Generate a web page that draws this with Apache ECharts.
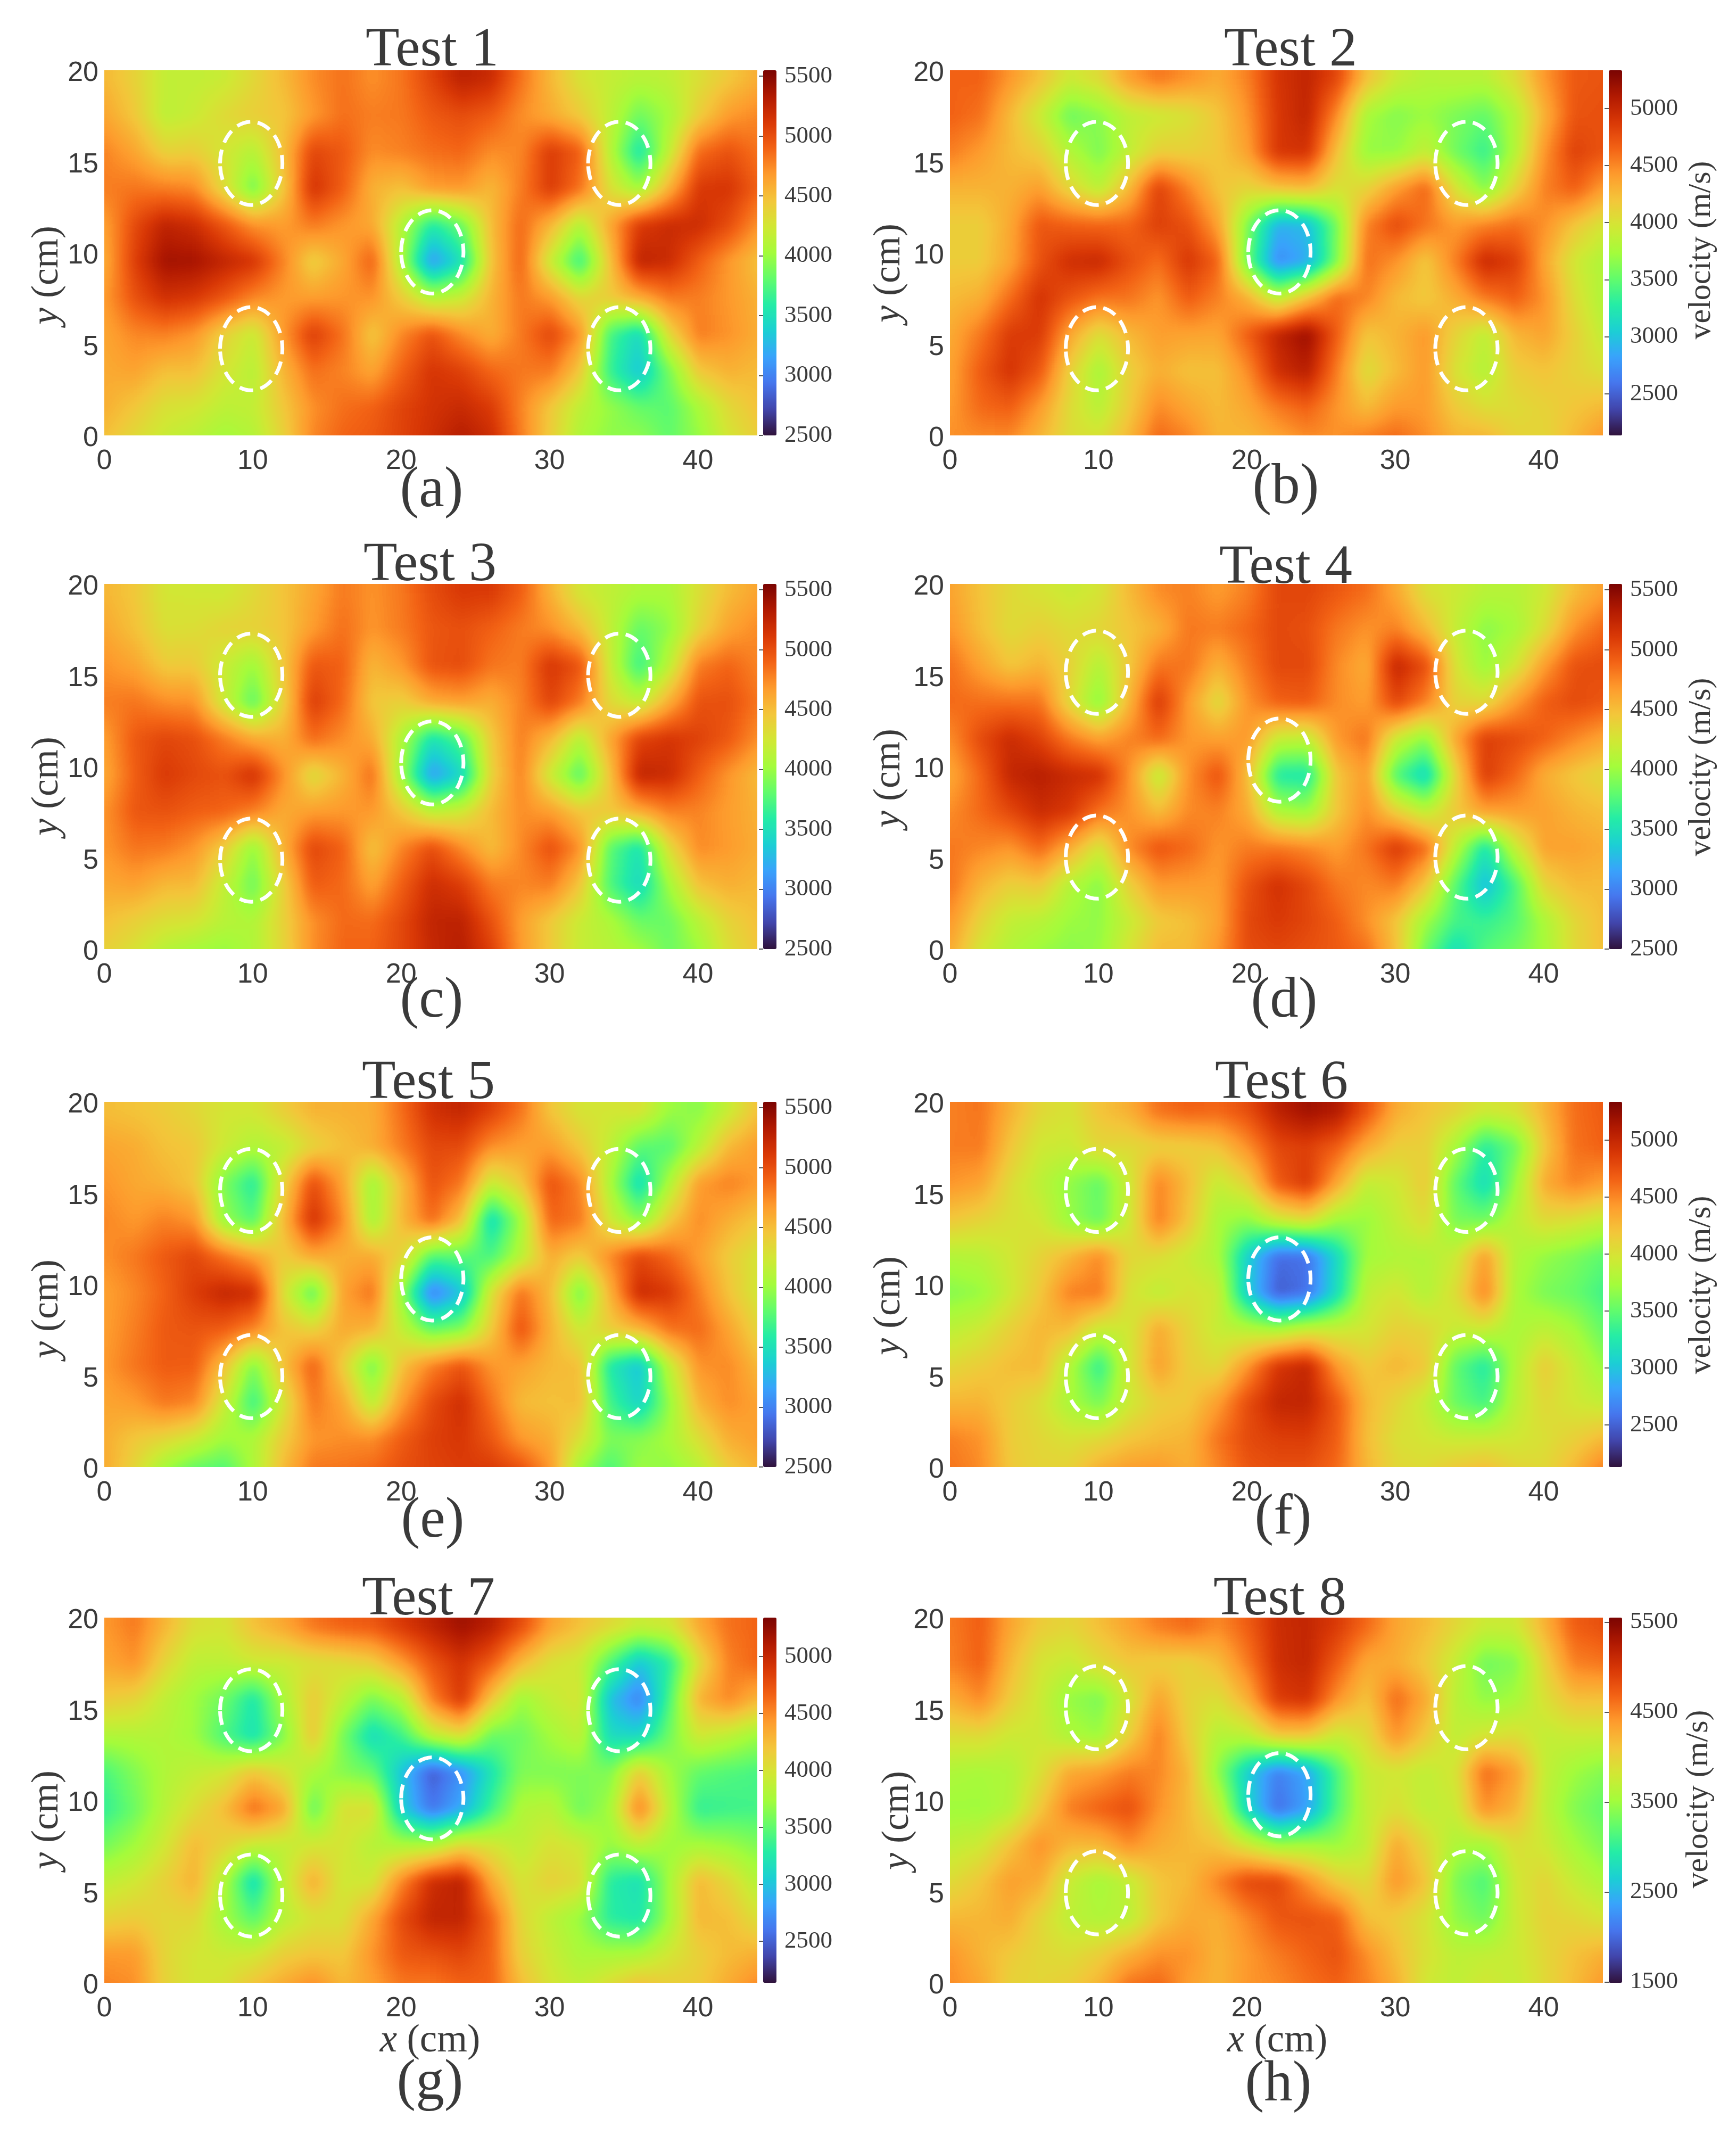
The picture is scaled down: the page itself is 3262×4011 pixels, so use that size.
<!DOCTYPE html>
<html><head><meta charset="utf-8">
<style>
html,body{margin:0;padding:0;background:#fff}
#stage{position:relative;width:3262px;height:4011px;overflow:hidden;background:#fff}
.clip{position:absolute;overflow:hidden}
.soft{position:absolute;left:0;top:0;width:100%;height:100%;filter:url(#turboMap)}
.heat{position:absolute;left:0;top:0;transform-origin:0 0}
#overlay{position:absolute;left:0;top:0;width:3262px;height:4011px}
</style>
<script src="https://cdn.jsdelivr.net/npm/echarts@6/dist/echarts.min.js"></script>
</head><body><div id="stage"></div>
<script>
// sample positions (cm)
const xSamples=[0,2,4,6,8,10,12,14,16,18,20,22,24,26,28,30,32,34,36,38,40,42,44];
const ySamples=[20,18,16,14,12,10,8,6,4,2,0];
const xTicks=[0,10,20,30,40];
const yTicks=[0,5,10,15,20];
const titles=['Test 1','Test 2','Test 3','Test 4','Test 5','Test 6','Test 7','Test 8'];
const letters=['(a)','(b)','(c)','(d)','(e)','(f)','(g)','(h)'];
const barRanges=[[2500,5550],[2135,5335],[2500,5550],[2500,5550],[2500,5550],[2130,5335],[2135,5340],[1490,5550]];
const barTicks=[
 [2500,3000,3500,4000,4500,5000,5500],[2500,3000,3500,4000,4500,5000],
 [2500,3000,3500,4000,4500,5000,5500],[2500,3000,3500,4000,4500,5000,5500],
 [2500,3000,3500,4000,4500,5000,5500],[2500,3000,3500,4000,4500,5000],
 [2500,3000,3500,4000,4500,5000],[1500,2500,3500,4500,5500]];
// anomaly outlines per test: [x, y, rx, ry] in cm
const outlines1=[[9.9,14.9,2.1,2.28],[34.7,14.9,2.1,2.28],[22.1,10.05,2.1,2.28],[9.9,4.75,2.1,2.28],[34.7,4.75,2.1,2.28]];
const outlines2=[[9.9,14.9,2.1,2.28],[34.8,14.9,2.1,2.28],[22.2,10.05,2.1,2.28],[9.9,4.75,2.1,2.28],[34.8,4.75,2.1,2.28]];
const outlines3=[[9.9,15,2.1,2.28],[34.7,15,2.1,2.28],[22.1,10.2,2.1,2.28],[9.9,4.87,2.1,2.28],[34.7,4.87,2.1,2.28]];
const outlines4=[[9.9,15.16,2.1,2.28],[34.8,15.16,2.1,2.28],[22.2,10.35,2.1,2.28],[9.9,5.04,2.1,2.28],[34.8,5.04,2.1,2.28]];
const outlines5=[[9.9,15.15,2.1,2.28],[34.7,15.15,2.1,2.28],[22.1,10.3,2.1,2.28],[9.9,4.95,2.1,2.28],[34.7,4.95,2.1,2.28]];
const outlines6=[[9.9,15.15,2.1,2.28],[34.8,15.15,2.1,2.28],[22.2,10.3,2.1,2.28],[9.9,4.95,2.1,2.28],[34.8,4.95,2.1,2.28]];
const outlines7=[[9.9,14.93,2.1,2.25],[34.7,14.93,2.1,2.25],[22.1,10.1,2.1,2.25],[9.9,4.78,2.1,2.25],[34.7,4.78,2.1,2.25]];
const outlines8=[[9.9,15.07,2.1,2.28],[34.8,15.07,2.1,2.28],[22.2,10.3,2.1,2.28],[9.9,4.93,2.1,2.28],[34.8,4.93,2.1,2.28]];
// velocity (m/s), rows from y=20 down to y=0
const test1=[
[4550,4400,4200,4200,4200,4300,4500,4750,4900,4700,4800,5050,5350,5350,4950,4600,4300,4250,4200,4200,4300,4400,4550],
[4600,4450,4100,4150,4350,4500,4450,4600,4850,4800,4850,4950,5100,5050,4800,4550,4300,4200,3950,4000,4300,4550,4750],
[4800,4600,4300,4350,4250,4200,4500,5050,5000,4750,4850,4850,4900,4800,4700,5100,5100,4300,3300,4000,4800,5000,4800],
[4850,4850,4650,4700,4300,3500,4250,5300,5050,4600,4500,4950,5050,4550,4650,5250,5200,4400,3550,4200,5050,5200,4950],
[4650,5050,5250,5150,4900,4550,4500,5000,4800,4600,4200,3750,4000,4550,4900,4800,4200,4650,5050,5150,5250,5250,4800],
[4500,5050,5450,5450,5300,5250,4900,4300,4550,5150,4200,2750,3100,4350,5100,4300,3250,4250,5400,5350,5050,4800,4450],
[4650,5050,5300,5300,5200,5000,4750,4500,4550,4900,4500,3750,3900,4500,4950,4650,4100,4500,5050,5050,4800,4700,4550],
[4600,4800,4900,4800,4500,4150,4700,5250,5000,4350,4700,5000,4700,4400,4700,5150,5000,3850,3300,4500,4950,4800,4600],
[4600,4700,4550,4600,4350,4000,4500,4950,4850,4450,4800,5150,5100,4850,4800,5000,4800,3700,2950,3800,4600,4700,4550],
[4650,4550,4350,4350,4250,4200,4500,4750,4850,4900,5050,5150,5200,5100,4800,4500,4250,4050,3800,3700,4050,4400,4550],
[4500,4350,4200,4150,4000,4050,4300,4750,4900,4950,5050,5150,5350,5300,4900,4500,4100,3950,4050,3800,3900,4200,4400]];
const test2=[
[4650,4700,4500,4300,4050,4100,4500,4750,4650,4400,4500,4900,5050,5000,4400,4050,3900,3900,3900,4050,4450,4750,4750],
[4700,4700,4300,3950,3450,3650,3900,3950,4000,4150,4400,4850,5100,4700,3850,3650,3750,3700,3550,3750,4200,4700,4750],
[4650,4500,4250,4150,3800,3550,3850,3950,4000,4150,4350,5000,5150,4400,3600,3500,3750,3500,3250,3700,4300,4900,4800],
[4350,4350,4300,4400,4000,3550,4000,4900,4500,4150,4150,4550,4800,4200,4000,4100,4800,4050,3250,3850,4450,4900,4550],
[4150,4150,4300,4800,4600,4500,4500,4950,4750,4400,3800,3050,3050,3600,4500,4900,4800,4400,4300,4500,4550,4350,4050],
[4150,4100,4300,4650,5000,5100,4850,4600,5000,4950,3500,2400,2450,3000,4600,4650,4150,4550,5100,5050,4400,4000,3800],
[4250,4200,4500,4950,4850,4800,4750,4350,4850,4650,4350,3350,3650,4550,4700,4300,4000,4300,4800,4950,4600,4050,3750],
[4300,4500,4850,5000,4500,4100,4350,4500,4500,4400,4750,5000,5350,4800,4200,4350,4500,4250,3800,4300,4550,4250,3850],
[4350,4700,5000,4900,4250,3650,4150,4300,4200,4200,4400,5050,5350,4750,3950,4150,4600,4050,3600,4200,4300,4150,3950],
[4350,4700,4850,4600,4100,3700,4100,4500,4300,4200,4400,4650,4900,4550,4050,4300,4450,4150,3900,4000,4150,4200,4200],
[4500,4450,4500,4300,4050,4000,4200,4700,4600,4300,4250,4300,4450,4450,4600,4700,4550,4300,4400,4150,4050,4200,4500]];
const test3=[
[4550,4500,4250,4250,4200,4300,4450,4600,4850,4700,4800,5000,5150,5200,5050,4650,4250,4200,4150,4100,4300,4500,4600],
[4600,4500,4300,4300,4400,4500,4450,4600,4850,4700,4850,4950,5000,4950,4850,4700,4400,4200,3850,3900,4250,4550,4750],
[4700,4600,4350,4400,4250,4050,4500,4950,5000,4550,4700,5000,5100,4900,4750,5150,5150,4350,3500,3950,4750,4900,4750],
[4850,4850,4650,4700,4150,3450,4200,5200,5000,4400,4400,4900,5000,4650,4650,5200,5150,4400,3750,4300,4900,5050,4850],
[4650,5000,5050,5000,4800,4450,4350,5100,4900,4600,4200,3700,3900,4500,4850,4750,4200,4700,5000,5100,5100,5100,4800],
[4550,4900,5150,5100,4900,5300,4850,4200,4450,5100,4100,2800,2950,4250,4950,4300,3350,4200,5400,5350,5050,4800,4500],
[4650,5000,5050,5000,5050,5150,4700,4500,4550,4850,4500,3800,3950,4500,4850,4650,4250,4550,5000,5050,4800,4700,4550],
[4700,4900,4900,4800,4600,3950,4600,5150,5050,4350,4700,5050,4700,4350,4650,5050,5000,3950,3400,4400,4850,4750,4600],
[4650,4750,4600,4650,4300,3600,4300,5050,5000,4500,4850,5200,5100,4750,4750,5000,4800,3750,3100,4000,4650,4700,4550],
[4550,4500,4400,4450,4250,4100,4350,4750,4900,4850,5000,5250,5350,5000,4650,4500,4250,4150,3750,3750,4150,4450,4550],
[4400,4300,4100,4000,3950,4050,4300,4700,4900,4900,5000,5200,5350,5200,4750,4500,4200,4150,4150,3850,3900,4250,4450]];
const test4=[
[4650,4500,4350,4300,4200,4200,4500,4800,4850,4650,4700,5000,5100,5000,4950,4700,4300,4300,4200,4150,4200,4450,4600],
[4700,4500,4300,4400,4300,4400,4500,4500,4800,4850,4900,5050,5050,4850,4750,4750,4450,4200,3950,4000,4150,4600,4850],
[4850,4600,4350,4500,4450,4150,4450,4750,4950,4600,4850,5050,5100,4800,4400,5300,5200,4350,3900,4100,4500,4950,5000],
[4950,4850,4700,4850,4350,3650,4350,5250,4750,4150,4650,5050,5200,4850,4400,5300,5150,4400,4000,4450,4850,5100,5050],
[4750,5100,5250,5050,4700,4400,4650,5200,4800,4450,4800,4450,4350,4800,5000,4450,4100,4700,5150,5050,5050,4950,4750],
[4550,4850,5300,5350,5200,5250,4900,3950,4650,5200,4700,3500,3250,4450,4950,3750,3050,4150,5250,5000,4600,4500,4300],
[4700,4900,5100,5300,5300,5050,4800,4250,4650,4850,4700,3900,3600,4300,4850,4200,3700,4300,5050,4900,4650,4550,4450],
[4800,4800,4750,5100,4850,4300,4850,5100,5000,4700,4800,4700,4650,4550,4800,5250,5100,4450,3500,4350,4800,4700,4600],
[4900,4650,4450,4600,4250,3800,4500,4850,4800,4650,4950,5200,5100,4800,4700,5000,4800,4000,3000,3550,4500,4650,4550],
[4800,4450,4250,4250,4050,3950,4150,4400,4500,4550,5050,5200,5100,5000,4700,4500,4150,3850,3700,3650,4050,4350,4550],
[4650,4250,4100,4000,3950,3950,4250,4550,4500,4650,5000,5050,5000,4950,4950,4650,3950,3350,3750,3900,3950,4300,4500]];
const test5=[
[4500,4450,4450,4350,4250,4250,4450,4650,4650,4550,4800,5150,5350,5150,5000,4500,4250,4250,4500,4150,3950,4050,4450],
[4600,4600,4500,4450,4300,4250,4200,4250,4400,4700,4900,5050,5150,4850,4700,4650,4400,4250,3950,3700,3900,4400,4650],
[4700,4600,4550,4500,3950,3550,4250,5050,4750,3900,4500,5000,4950,4350,4500,5100,4850,4250,3300,3950,4600,4850,4750],
[4800,4650,4750,4750,3800,3350,4400,5350,5000,3750,4400,5200,5000,3300,3850,5050,5100,4250,3400,4150,4850,4700,4500],
[4750,4850,4950,5100,4750,4450,4300,5000,4700,4500,4600,4050,4200,3550,3750,4650,4550,4850,5100,4850,4650,4500,4300],
[4650,4750,4900,5100,5300,5450,4350,3450,4600,5050,4150,2700,3000,4250,4850,4700,3550,4350,5300,5250,4800,4500,4200],
[4650,4750,4950,5000,5050,5150,4550,4050,4600,4950,4300,3500,3400,4150,5200,4800,3950,4650,5000,5150,5050,4700,4300],
[4700,4850,4950,5000,4700,3950,4600,5100,4500,3650,4500,4700,4950,4600,4750,4500,4750,3600,3150,4250,4800,4850,4500],
[4650,4750,4950,5000,4400,3350,4100,4950,4800,3750,4500,4950,5300,4900,4500,4400,4800,3700,3000,3750,4600,4850,4600],
[4600,4500,4550,4500,4200,4100,4350,4650,4700,4600,4900,5100,5200,4950,4550,4500,4500,4050,3900,4050,4350,4700,4750],
[4650,4400,4000,3750,3650,4000,4500,4850,4850,4900,5000,5050,5100,5150,5100,4900,4050,3600,4050,3950,4000,4350,4550]];
const test6=[
[4500,4600,4350,4100,4000,4200,4300,4700,4850,4750,4800,5100,5300,5300,4950,4400,4250,4200,4150,4150,4300,4650,4700],
[4550,4650,4250,3950,3950,4250,4150,4050,4100,4250,4500,4850,4850,4800,4500,4200,4200,3950,3350,3400,4050,4550,4700],
[4500,4500,4100,3900,3700,3550,3900,4550,4300,3900,4050,4800,5100,4600,3950,3900,4350,3650,3000,3500,4300,4700,4550],
[4300,4200,4050,4000,3650,3150,3750,4800,4400,3800,3750,4300,4700,4000,3700,3850,4350,3600,3200,3750,4200,4200,4050],
[3900,3950,4000,4100,4150,4500,4000,4200,3950,3850,3200,2700,2650,3150,3800,3750,3800,3800,4500,3800,3750,3700,3550],
[3600,3600,3900,4100,4600,4850,4100,3700,3950,4200,3000,2150,2150,2800,3850,4050,3750,3800,4950,3850,3550,3550,3350],
[3800,3900,4050,4250,4350,4200,3950,4350,4100,3900,3750,3350,3450,3700,3900,4050,4050,3950,4300,3800,3800,3750,3450],
[4050,4100,4250,4450,4000,3150,3950,4650,4200,3900,4250,4800,5150,4350,4000,4350,4450,3650,3150,3750,4250,4000,3650],
[4200,4250,4150,4100,3750,3350,3850,4150,4150,4250,4700,5050,5150,4800,4300,4150,4050,3500,3100,3750,4200,4000,3800],
[4500,4500,4150,4100,4000,3950,4100,4150,4200,4600,4850,4900,4950,4850,4250,4000,3950,3850,3750,3900,4000,4050,4150],
[4600,4550,4200,4100,4100,4350,4450,4500,4300,4450,4700,4750,4750,4700,4350,4100,4050,4200,4350,4150,4050,4200,4600]];
const test7=[
[4450,4600,4350,4100,4000,4250,4400,4700,4850,4850,4950,5100,5300,5200,4950,4500,4350,4250,4150,4150,4450,4650,4650],
[4400,4600,4200,3900,3900,4150,4050,4000,4050,4250,4550,4800,4950,4850,4500,4100,4000,3700,3150,3150,3900,4450,4750],
[4250,4250,3950,3750,3650,3250,3850,4250,4000,3700,3850,4550,5150,4450,3750,3900,4300,3100,2450,3200,4300,4750,4450],
[3950,3900,3850,3750,3400,2850,3400,4450,3750,3050,3350,4250,4700,3750,3550,3700,4250,3100,2750,3350,4150,4100,3850],
[3450,3700,3850,3900,3850,4100,3800,3900,3600,3400,3100,2500,2750,3200,3650,3500,3750,3500,4100,3650,3600,3550,3450],
[3250,3500,3850,4000,4200,4800,4800,3300,4000,4450,3000,2250,2500,3100,3800,3950,3500,3400,4950,4100,3250,3300,3350],
[3450,3650,3850,4250,4200,4250,4000,3800,4000,3900,3650,3350,3600,3900,3800,4000,3900,3650,4250,3800,3600,3600,3550],
[3850,3950,4150,4500,4000,2950,3850,4650,4000,3750,4350,4850,5250,4300,3850,4200,4450,3400,3150,3700,4350,4100,3750],
[4000,4050,4050,4200,3800,3250,3750,4000,3950,4250,4750,5100,5150,4800,4100,3900,3850,3200,2950,3500,4400,4350,3950],
[4400,4450,4100,4000,3950,3850,4050,4100,4050,4450,4800,4850,4950,4850,4100,3950,3750,3700,3550,3850,4100,4250,4250],
[4550,4550,4150,4000,4000,4250,4350,4600,4300,4350,4550,4550,4600,4750,4350,4050,3900,4050,4350,4200,4150,4300,4550]];
const test8=[
[4500,4800,4350,4100,4000,4200,4350,4650,4900,4600,4700,5100,5150,5050,4800,4400,4300,4050,3900,3900,4200,4800,4850],
[4600,4850,4250,3900,3750,4050,4250,4000,3950,4150,4600,5050,5200,4900,4350,4250,4000,3900,3300,3250,3900,4600,4750],
[4300,4750,4150,3850,3500,3300,3800,4400,4000,3900,4250,5050,5250,4700,4000,4750,4450,3750,3400,3450,3850,4300,4250],
[4000,4100,3850,3850,3500,3200,3750,4650,4050,3650,3850,4650,4800,4050,3850,4750,4350,3750,3600,3750,3700,3850,3900],
[3650,3600,3650,3850,4250,4200,4400,4550,4400,3450,2800,2250,2500,3100,3750,3900,3750,3650,4700,4550,3750,3600,3450],
[3500,3450,3500,3850,4650,4800,4950,4500,4250,3950,2700,1700,1850,2950,3800,3850,3650,3550,4800,4550,3800,3450,3200],
[3650,3650,4000,4550,4300,4400,4800,4350,4250,4050,3500,2900,3200,3350,3450,4350,3900,3650,3650,4050,3800,3550,3300],
[3850,4050,4350,4500,3900,3550,3800,4250,4150,4550,5000,5050,4400,3850,3650,4650,4400,3450,2950,3850,4100,3750,3500],
[4100,4200,4450,4050,3650,3500,3400,3950,4250,4250,4500,4900,4850,4850,3950,4050,4000,3450,3000,3650,4100,3950,3700],
[4450,4200,4100,4050,3850,3950,4100,4300,4500,4200,4400,4600,4700,5000,4500,4100,3950,3750,3650,3750,3950,4150,4200],
[4500,4400,4000,3950,4050,4200,4650,4800,4400,4200,4400,4450,4600,4700,4600,4400,3850,3650,3900,3700,3900,4100,4450]];

const tests=[test1,test2,test3,test4,test5,test6,test7,test8];
const outlines=[outlines1,outlines2,outlines3,outlines4,outlines5,outlines6,outlines7,outlines8];
const turbo=['#30123b','#4145ab','#4675ed','#39a2fc','#1bcfd4','#24eca6','#61fc6c','#a4fc3b','#d1e834','#f3c63a','#fe9b2d','#f36315','#d93806','#b11901','#7a0402'];

// layout (px)
const panelW=1227, panelH=686;
const lefts=[196,1785];
const tops=[132,1097,2070,3039];
const barGap=11, barW=25;
const softness=9;
const fieldNudgeY=14;
const serif='"Liberation Serif",serif', sans='"Liberation Sans",sans-serif';
const titlePos=[[812,122],[2425,122],[808,1089],[2416,1094],[805,2062],[2408,2062],[805,3032],[2405,3032]];
const letterPos=[[811,950],[2416,944],[811,1909],[2413,1909],[813,2886],[2411,2880],[808,3942],[2402,3945]];
const yNamePos=[[89,517],[1671,513],[89,1477],[1671,1462],[89,2459],[1671,2453],[89,3419],[1687,3420]];
const velNamePos=[[3197,470],[3197,1441],[3197,2414],[3192,3380]];
const xNamePos=[[808,3855],[2400,3855]];

// the grid is drawn as grey levels, smoothed, then coloured with the same turbo ramp as the colour bars
const ch=[0,1,2].map(k=>turbo.map(h=>(parseInt(h.slice(1+k*2,3+k*2),16)/255).toFixed(4)).join(' '));
const holder=document.createElement('div');
holder.innerHTML=`<svg width="0" height="0" style="position:absolute"><filter id="turboMap" color-interpolation-filters="sRGB" x="-5%" y="-5%" width="110%" height="110%">
<feGaussianBlur stdDeviation="${softness}"/>
<feComponentTransfer><feFuncR type="table" tableValues="${ch[0]}"/><feFuncG type="table" tableValues="${ch[1]}"/><feFuncB type="table" tableValues="${ch[2]}"/></feComponentTransfer>
</filter></svg>`;
document.body.insertBefore(holder,document.body.firstChild);

const stage=document.getElementById('stage');
tests.forEach((rows,i)=>{
  const L=lefts[i%2], T=tops[i>>1];
  const clip=document.createElement('div');clip.className='clip';
  clip.style.cssText=`left:${L}px;top:${T}px;width:${panelW}px;height:${panelH}px`;
  const soft=document.createElement('div');soft.className='soft';
  const heat=document.createElement('div');heat.className='heat';
  const sx=panelW/(xSamples.length-1), sy=panelH/(ySamples.length-1);
  heat.style.cssText=`width:${xSamples.length}px;height:${ySamples.length}px;transform:translate(${-sx/2}px,${-sy/2+fieldNudgeY}px) scale(${sx},${sy})`;
  soft.appendChild(heat);clip.appendChild(soft);stage.appendChild(clip);
  const data=[];
  rows.forEach((r,ry)=>r.forEach((v,rx)=>data.push([String(xSamples[rx]),String(ySamples[ry]),v])));
  const c=echarts.init(heat,null,{width:xSamples.length,height:ySamples.length,devicePixelRatio:1,renderer:'canvas'});
  // a small grid offset keeps each one-pixel cell from rounding onto its neighbour
  c.setOption({animation:false,
    grid:{left:0.1,top:0.1,width:xSamples.length,height:ySamples.length},
    xAxis:{type:'category',show:false,data:xSamples.map(String)},
    yAxis:{type:'category',show:false,data:ySamples.slice().reverse().map(String)},
    visualMap:{show:false,min:barRanges[i][0],max:barRanges[i][1],inRange:{color:['#000000','#ffffff']},dimension:2},
    series:[{type:'heatmap',data,progressive:0,silent:true,animation:false,clip:false}]});
});

// overlay chart: axes, colour bars, outlines, texts
const ov=document.createElement('div');ov.id='overlay';stage.appendChild(ov);
const chart=echarts.init(ov,null,{width:3262,height:4011,devicePixelRatio:1,renderer:'canvas'});
const grid=[],xAxis=[],yAxis=[],series=[],visualMap=[],graphic=[];
const labelColor='#3a3a3a';
const fmt=v=>String(v);
function txt(text,x,y,size,opt){
  opt=opt||{};
  graphic.push({type:'text',x,y,rotation:opt.rotation||0,z:100,silent:true,style:{
    text,fill:labelColor,font:`${size}px ${serif}`,align:'center',verticalAlign:'middle',
    rich:opt.rich}});
}
const italicRich=s=>({i:{fontStyle:'italic',fontFamily:serif,fontSize:s,fill:labelColor},n:{fontFamily:serif,fontSize:s,fill:labelColor}});
tests.forEach((rows,i)=>{
  const L=lefts[i%2], T=tops[i>>1];
  grid.push({left:L,top:T,width:panelW,height:panelH,show:false});
  xAxis.push({type:'value',gridIndex:i,min:0,max:44,axisLine:{show:false},axisTick:{show:false},splitLine:{show:false},
    axisLabel:{customValues:xTicks,formatter:fmt,fontFamily:sans,fontSize:52,color:labelColor,margin:23}});
  yAxis.push({type:'value',gridIndex:i,min:0,max:20,axisLine:{show:false},axisTick:{show:false},splitLine:{show:false},
    axisLabel:{customValues:yTicks,formatter:fmt,fontFamily:sans,fontSize:52,color:labelColor,margin:11,verticalAlign:'top',lineHeight:12}});
  series.push({type:'custom',coordinateSystem:'cartesian2d',xAxisIndex:i,yAxisIndex:i,silent:true,clip:false,z:5,
    data:outlines[i],
    renderItem:(p,api)=>{
      const c=api.coord([api.value(0),api.value(1)]);
      const s=api.size([api.value(2),api.value(3)]);
      return {type:'ellipse',shape:{cx:c[0],cy:c[1],rx:s[0],ry:s[1]},
        style:{fill:'transparent',stroke:'#fff',lineWidth:7,lineDash:[26,14]}};
    }});
  txt(titles[i],titlePos[i][0],titlePos[i][1]-26,104);
  txt(letters[i],letterPos[i][0],letterPos[i][1]-27,107);
  txt('{i|y}{n| (cm)}',yNamePos[i][0],yNamePos[i][1],72,{rotation:Math.PI/2,rich:italicRich(72)});
});
tests.forEach((rows,i)=>{
  const L=lefts[i%2]+panelW+barGap, T=tops[i>>1], k=i+8;
  grid.push({left:L,top:T,width:barW,height:panelH,show:false});
  xAxis.push({type:'value',gridIndex:k,min:0,max:1,show:false});
  yAxis.push({type:'value',gridIndex:k,position:'right',min:barRanges[i][0],max:barRanges[i][1],z:10,
    axisLine:{show:false},splitLine:{show:false},
    axisTick:{show:true,inside:true,length:8,lineStyle:{color:'#555',width:2},customValues:barTicks[i]},
    axisLabel:{customValues:barTicks[i],formatter:fmt,fontFamily:serif,fontSize:45,color:labelColor,margin:15}});
  visualMap.push({type:'continuous',seriesIndex:[],min:barRanges[i][0],max:barRanges[i][1],left:L,top:T,padding:0,
    itemWidth:barW,itemHeight:panelH,calculable:false,hoverLink:false,inRange:{color:turbo}});
});
velNamePos.forEach(p=>txt('velocity (m/s)',p[0],p[1],60,{rotation:Math.PI/2}));
xNamePos.forEach(p=>txt('{i|x}{n| (cm)}',p[0],p[1]-20,73,{rich:italicRich(73)}));
chart.setOption({animation:false,backgroundColor:'transparent',grid,xAxis,yAxis,visualMap,series,graphic:{elements:graphic}});
</script></body></html>
